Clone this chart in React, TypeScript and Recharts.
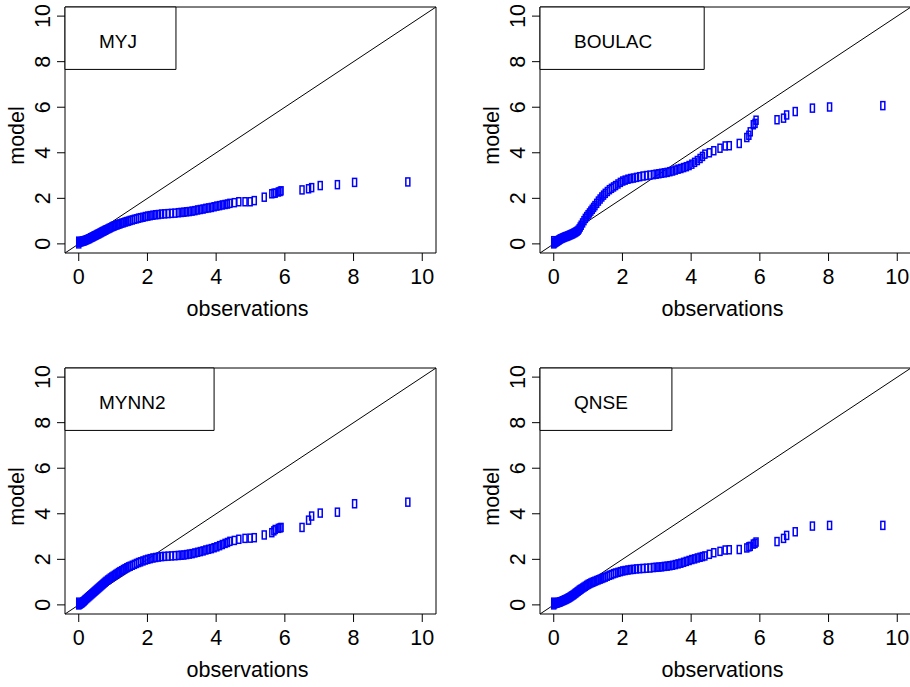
import React from "react";
import {
  ScatterChart,
  Scatter,
  XAxis,
  YAxis,
  ReferenceArea,
  ReferenceLine
} from "recharts";

// sorted observations (shared by all four panels)
const obs = [
  0, 0, 0, 0.02, 0.04, 0.06, 0.08, 0.1, 0.12, 0.14,
  0.16, 0.18, 0.2, 0.23, 0.26, 0.29, 0.32, 0.35, 0.38, 0.41,
  0.44, 0.47, 0.5, 0.53, 0.56, 0.59, 0.62, 0.65, 0.68, 0.71,
  0.74, 0.77, 0.8, 0.84, 0.88, 0.92, 0.96, 1.0, 1.04, 1.08,
  1.12, 1.16, 1.2, 1.25, 1.3, 1.35, 1.4, 1.45, 1.5, 1.56,
  1.62, 1.68, 1.74, 1.8, 1.87, 1.94, 2.01, 2.08, 2.16, 2.24,
  2.32, 2.41, 2.5, 2.6, 2.7, 2.8, 2.9, 2.98, 3.06, 3.14,
  3.22, 3.3, 3.38, 3.46, 3.54, 3.62, 3.7, 3.78, 3.86, 3.94,
  4.02, 4.1, 4.18, 4.26, 4.33,
  4.4, 4.53, 4.66, 4.84, 4.99, 5.11, 5.4, 5.62, 5.68, 5.72,
  5.81, 5.86, 5.89, 6.5, 6.69, 6.78, 7.03, 7.53, 8.03, 9.58
];

// sorted model values, one list per scheme
const myj = [
  0.0, 0.06, 0.12, 0.08, 0.09, 0.1, 0.1, 0.11, 0.12, 0.13,
  0.14, 0.15, 0.16, 0.18, 0.2, 0.22, 0.24, 0.27, 0.29, 0.31,
  0.34, 0.36, 0.38, 0.41, 0.43, 0.45, 0.48, 0.5, 0.53, 0.55,
  0.57, 0.6, 0.62, 0.65, 0.68, 0.71, 0.74, 0.77, 0.79, 0.82,
  0.84, 0.86, 0.88, 0.91, 0.93, 0.96, 0.98, 1.0, 1.03, 1.05,
  1.08, 1.1, 1.13, 1.15, 1.17, 1.2, 1.22, 1.24, 1.26, 1.28,
  1.29, 1.31, 1.32, 1.33, 1.34, 1.35, 1.37, 1.38, 1.39, 1.41,
  1.42, 1.44, 1.46, 1.49, 1.51, 1.53, 1.56, 1.58, 1.6, 1.63,
  1.66, 1.68, 1.71, 1.73, 1.75,
  1.78, 1.81, 1.85, 1.85, 1.85, 1.9, 2.05, 2.2, 2.22, 2.23,
  2.28, 2.3, 2.33, 2.37, 2.42, 2.47, 2.56, 2.6, 2.7, 2.72
];

const boulac = [
  0.0, 0.07, 0.14, 0.04, 0.06, 0.08, 0.1, 0.12, 0.14, 0.16,
  0.18, 0.2, 0.22, 0.24, 0.26, 0.28, 0.3, 0.32, 0.33, 0.35,
  0.37, 0.39, 0.41, 0.43, 0.45, 0.48, 0.5, 0.53, 0.56, 0.6,
  0.66, 0.74, 0.82, 0.92, 1.02, 1.12, 1.2, 1.28, 1.36, 1.44,
  1.52, 1.6, 1.68, 1.78, 1.88, 1.97, 2.06, 2.14, 2.22, 2.3,
  2.38, 2.44, 2.5, 2.56, 2.63, 2.7, 2.76, 2.8, 2.84, 2.87,
  2.89, 2.92, 2.95, 2.98, 3.0, 3.02, 3.04, 3.06, 3.08, 3.1,
  3.12, 3.14, 3.17, 3.2, 3.24, 3.28, 3.31, 3.35, 3.39, 3.44,
  3.5, 3.58, 3.66, 3.75, 3.84,
  3.94, 4.0, 4.09, 4.2, 4.3, 4.31, 4.41, 4.67, 4.77, 4.92,
  5.23, 5.29, 5.43, 5.45, 5.52, 5.66, 5.81, 5.96, 6.01, 6.07
];

const mynn2 = [
  0.0, 0.06, 0.12, 0.02, 0.04, 0.06, 0.08, 0.1, 0.13, 0.15,
  0.18, 0.21, 0.24, 0.28, 0.32, 0.36, 0.4, 0.44, 0.48, 0.52,
  0.56, 0.6, 0.64, 0.68, 0.72, 0.76, 0.8, 0.84, 0.88, 0.92,
  0.96, 1.0, 1.04, 1.09, 1.13, 1.18, 1.22, 1.26, 1.3, 1.34,
  1.38, 1.42, 1.46, 1.5, 1.55, 1.59, 1.63, 1.67, 1.7, 1.74,
  1.78, 1.82, 1.86, 1.89, 1.93, 1.97, 2.0, 2.03, 2.06, 2.08,
  2.1, 2.12, 2.13, 2.14, 2.15, 2.16, 2.17, 2.18, 2.19, 2.21,
  2.23, 2.25, 2.28, 2.31, 2.34, 2.37, 2.41, 2.44, 2.47, 2.51,
  2.55, 2.6, 2.65, 2.7, 2.74,
  2.79, 2.83, 2.88, 2.92, 2.93, 2.95, 3.07, 3.17, 3.25, 3.31,
  3.36, 3.38, 3.4, 3.4, 3.72, 3.9, 4.03, 4.07, 4.44, 4.51
];

const qnse = [
  0.0, 0.06, 0.12, 0.05, 0.06, 0.07, 0.08, 0.09, 0.1, 0.11,
  0.12, 0.13, 0.14, 0.16, 0.18, 0.2, 0.22, 0.24, 0.26, 0.29,
  0.31, 0.34, 0.37, 0.4, 0.43, 0.46, 0.5, 0.53, 0.57, 0.6,
  0.64, 0.67, 0.7, 0.74, 0.78, 0.82, 0.86, 0.9, 0.93, 0.96,
  0.99, 1.01, 1.04, 1.07, 1.1, 1.13, 1.16, 1.19, 1.22, 1.26,
  1.3, 1.33, 1.37, 1.4, 1.43, 1.46, 1.49, 1.51, 1.53, 1.55,
  1.56, 1.58, 1.59, 1.6, 1.61, 1.62, 1.64, 1.65, 1.66, 1.67,
  1.69, 1.7, 1.72, 1.74, 1.77, 1.8, 1.83, 1.87, 1.91, 1.95,
  1.99, 2.02, 2.06, 2.09, 2.12,
  2.15, 2.22, 2.29, 2.35, 2.41, 2.42, 2.43, 2.5, 2.55, 2.57,
  2.67, 2.7, 2.76, 2.78, 2.92, 3.05, 3.21, 3.46, 3.49, 3.49
];

const axisTicks = [0, 2, 4, 6, 8, 10];

const FONT = "'Liberation Sans', Arial, Helvetica, sans-serif";
const DOMAIN: [number, number] = [-0.4, 10.4];
const BOX_W = 371;
const BOX_H = 246;
const ML = 65; // y axis room left of the box
const MT = 7;
const MR = 10;
const AXIS_H = 90;

const panels = [
  { name: "MYJ", model: myj, left: 65, top: 7, legendRight: 2.83 },
  { name: "BOULAC", model: boulac, left: 540, top: 7, legendRight: 4.38 },
  { name: "MYNN2", model: mynn2, left: 65, top: 368, legendRight: 3.94 },
  { name: "QNSE", model: qnse, left: 540, top: 368, legendRight: 3.44 }
];

function OpenBox({ cx, cy }: any) {
  return (
    <rect x={cx - 2} y={cy - 4} width={4} height={8} fill="none" stroke="#0000ff" strokeWidth={1.5} />
  );
}

function XTick({ x, y, payload }: any) {
  return (
    <text x={x} y={y + 23} textAnchor="middle" fontSize={21.5} fontFamily={FONT} fill="#000">
      {payload.value}
    </text>
  );
}

function YTick({ x, y, payload }: any) {
  const bx = x - 7;
  return (
    <text
      x={bx}
      y={y}
      transform={`rotate(-90 ${bx} ${y})`}
      textAnchor="middle"
      fontSize={21.5}
      fontFamily={FONT}
      fill="#000"
    >
      {payload.value}
    </text>
  );
}

function Panel({ name, model, legendRight }: { name: string; model: number[]; legendRight: number }) {
  const pts = obs.map((o, i) => ({ x: o, y: model[i] }));
  return (
    <ScatterChart
      width={ML + BOX_W + MR}
      height={MT + BOX_H + AXIS_H}
      margin={{ top: MT, right: MR, bottom: 0, left: 0 }}
    >
      <XAxis
        type="number"
        dataKey="x"
        domain={DOMAIN}
        ticks={axisTicks}
        allowDataOverflow
        height={AXIS_H}
        axisLine={false}
        tickLine={{ stroke: "#000" }}
        tickSize={8}
        tickMargin={0}
        tick={<XTick />}
        label={(p: any) => (
          <text
            x={p.viewBox.x + p.viewBox.width / 2 - 3}
            y={p.viewBox.y + 63}
            textAnchor="middle"
            fontSize={21.5}
            fontFamily={FONT}
            fill="#000"
          >
            observations
          </text>
        )}
      />
      <YAxis
        type="number"
        dataKey="y"
        domain={DOMAIN}
        ticks={axisTicks}
        allowDataOverflow
        width={ML}
        axisLine={false}
        tickLine={{ stroke: "#000" }}
        tickSize={8}
        tickMargin={0}
        tick={<YTick />}
        label={(p: any) => {
          const lx = p.viewBox.x + 24;
          const ly = p.viewBox.y + 128.5;
          return (
            <text
              x={lx}
              y={ly}
              transform={`rotate(-90 ${lx} ${ly})`}
              textAnchor="middle"
              fontSize={21.5}
              fontFamily={FONT}
              fill="#000"
            >
              model
            </text>
          );
        }}
      />
      <ReferenceArea x1={-0.4} x2={10.4} y1={-0.4} y2={10.4} fill="none" stroke="#000" strokeWidth={1} />
      <Scatter data={pts} shape={<OpenBox />} isAnimationActive={false} />
      <ReferenceLine
        segment={[
          { x: -0.4, y: -0.4 },
          { x: 10.4, y: 10.4 }
        ]}
        stroke="#000"
        strokeWidth={1}
      />
      <ReferenceArea
        x1={-0.4}
        x2={legendRight}
        y1={7.66}
        y2={10.4}
        fill="#fff"
        fillOpacity={1}
        stroke="#000"
        strokeWidth={1}
        label={(p: any) => (
          <text
            x={p.viewBox.x + 34}
            y={p.viewBox.y + 40.5}
            fontSize={19}
            fontFamily={FONT}
            fill="#000"
          >
            {name}
          </text>
        )}
      />
    </ScatterChart>
  );
}

export default function App() {
  return (
    <div
      style={{
        position: "absolute",
        left: 0,
        top: 0,
        width: 910,
        height: 687,
        overflow: "hidden",
        background: "#fff"
      }}
    >
      {panels.map((p) => (
        <div key={p.name} style={{ position: "absolute", left: p.left - ML, top: p.top - MT }}>
          <Panel name={p.name} model={p.model} legendRight={p.legendRight} />
        </div>
      ))}
    </div>
  );
}
